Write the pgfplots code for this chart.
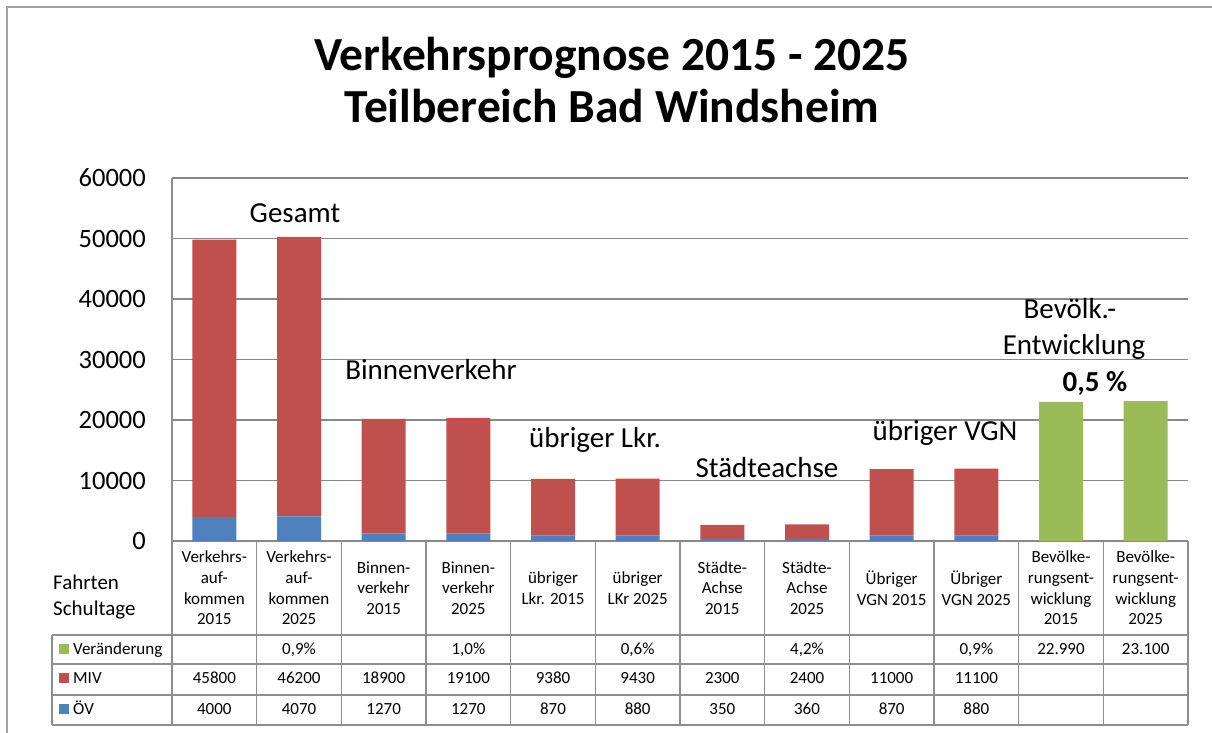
\documentclass[border=0pt]{standalone}
\usepackage{pgfplots}
\pgfplotsset{compat=1.18}
\usepackage{pgfplotstable}
\usepackage{fontspec}
\setmainfont{Carlito}
\definecolor{oev}{HTML}{4F81BD}
\definecolor{miv}{HTML}{C0504D}
\definecolor{ver}{HTML}{9BBB59}
\definecolor{gridgray}{HTML}{888888}
\definecolor{tabgray}{HTML}{8E8E8E}

\pgfplotstableread{
x oev miv ver
0 4000 45800 0
1 4070 46200 0
2 1270 18900 0
3 1270 19100 0
4 870 9380 0
5 880 9430 0
6 350 2300 0
7 360 2400 0
8 870 11000 0
9 880 11100 0
10 0 0 22990
11 0 0 23100
}\datatable

\begin{document}
\begin{tikzpicture}[x=1pt,y=1pt]
\useasboundingbox (0,0) rectangle (1212,733);
\draw[gray!75, line width=1.5pt] (7,0) -- (7,726) -- (1212,726);
\node[font=\fontsize{47.5}{52}\selectfont\bfseries, anchor=base, inner sep=0pt] at (612,662) {Verkehrsprognose 2015 - 2025};
\node[font=\fontsize{47.5}{52}\selectfont\bfseries, anchor=base, inner sep=0pt] at (612,610) {Teilbereich Bad Windsheim};

\begin{axis}[
  at={(172pt,192pt)}, anchor=south west, scale only axis,
  width=1016pt, height=363pt,
  ybar stacked, bar width=44pt,
  xmin=-0.5, xmax=11.5, ymin=0, ymax=60000,
  ytick={0,10000,...,60000}, xtick=\empty,
  ymajorgrids, grid style={gridgray, line width=1.5pt},
  axis line style={draw=none}, major tick length=0pt,
  yticklabel style={font=\fontsize{26.5}{30}\selectfont, anchor=east, inner sep=0pt, xshift=-26pt},
  scaled y ticks=false,
  /pgf/number format/1000 sep={}, /pgf/number format/assume math mode=true,
  clip=false,
]
\addplot[fill=oev, draw=none] table[x=x,y=oev]{\datatable};
\addplot[fill=miv, draw=none] table[x=x,y=miv]{\datatable};
\addplot[fill=ver, draw=none] table[x=x,y=ver]{\datatable};
\pgfplotsinvokeforeach{0,...,11}{\coordinate (c#1) at (axis cs:#1,0);}
\end{axis}

% annotations
\begin{scope}[every node/.style={font=\fontsize{29}{35}\selectfont, anchor=base, inner sep=0pt}]
\node at (295,510) {Gesamt};
\node at (431,353) {Binnenverkehr};
\node at (595,285) {übriger Lkr.};
\node at (767,255) {Städteachse};
\node at (945,292) {übriger VGN};
\node at (1070,414) {Bevölk.-};
\node at (1074,378) {Entwicklung};
\node[font=\fontsize{29}{35}\selectfont\bfseries] at (1095,341) {0,5 \%};
\end{scope}

% table lines
\begin{scope}[tabgray, line width=1.5pt]
\draw (172,8) -- (172,555);
\draw (52,98) -- (1188,98);
\draw (52,69) -- (1188,69);
\draw (52,38) -- (1188,38);
\draw (52,8) -- (1188,8);
\draw (52,98) -- (52,8);
\foreach \i in {0,...,11}{
  \draw ([xshift=42.33pt]c\i) -- ([xshift=42.33pt, yshift=-184pt]c\i);
}
\end{scope}

% category labels
\foreach \i/\t in {0/{Verkehrs-\\auf-\\kommen\\2015},1/{Verkehrs-\\auf-\\kommen\\2025},
  2/{Binnen-\\verkehr\\2015},3/{Binnen-\\verkehr\\2025},4/{übriger\\Lkr. 2015},5/{übriger\\LKr 2025},
  6/{Städte-\\Achse\\2015},7/{Städte-\\Achse\\2025},8/{Übriger\\VGN 2015},9/{Übriger\\VGN 2025},
  10/{Bevölke-\\rungsent-\\wicklung\\2015},11/{Bevölke-\\rungsent-\\wicklung\\2025}}{
  \node[align=center, font=\fontsize{17}{20.7}\selectfont, inner sep=0pt] at ([yshift=-47pt]c\i) {\t};
}
% Veränderung row
\foreach \i/\t in {1/{0,9\%},3/{1,0\%},5/{0,6\%},7/{4,2\%},9/{0,9\%},10/{22.990},11/{23.100}}{
  \node[font=\fontsize{17}{20}\selectfont, anchor=base, inner sep=0pt] at ([yshift=-114pt]c\i) {\t};
}
% MIV row
\foreach \i/\t in {0/45800,1/46200,2/18900,3/19100,4/9380,5/9430,6/2300,7/2400,8/11000,9/11100}{
  \node[font=\fontsize{17}{20}\selectfont, anchor=base, inner sep=0pt] at ([yshift=-143pt]c\i) {\t};
}
% ÖV row
\foreach \i/\t in {0/4000,1/4070,2/1270,3/1270,4/870,5/880,6/350,7/360,8/870,9/880}{
  \node[font=\fontsize{17}{20}\selectfont, anchor=base, inner sep=0pt] at ([yshift=-174pt]c\i) {\t};
}
% legend keys
\fill[ver] (59,79) rectangle (69,89);
\fill[miv] (59,50) rectangle (69,60);
\fill[oev] (59,19) rectangle (69,29);
\begin{scope}[every node/.style={font=\fontsize{17}{20}\selectfont, anchor=base west, inner sep=0pt}]
\node at (73,78) {Veränderung};
\node at (73,49) {MIV};
\node at (73,18) {ÖV};
\end{scope}
% row header
\node[font=\fontsize{21}{26}\selectfont, anchor=base west, inner sep=0pt] at (53,143) {Fahrten};
\node[font=\fontsize{21}{26}\selectfont, anchor=base west, inner sep=0pt] at (53,117) {Schultage};
\end{tikzpicture}
\end{document}
